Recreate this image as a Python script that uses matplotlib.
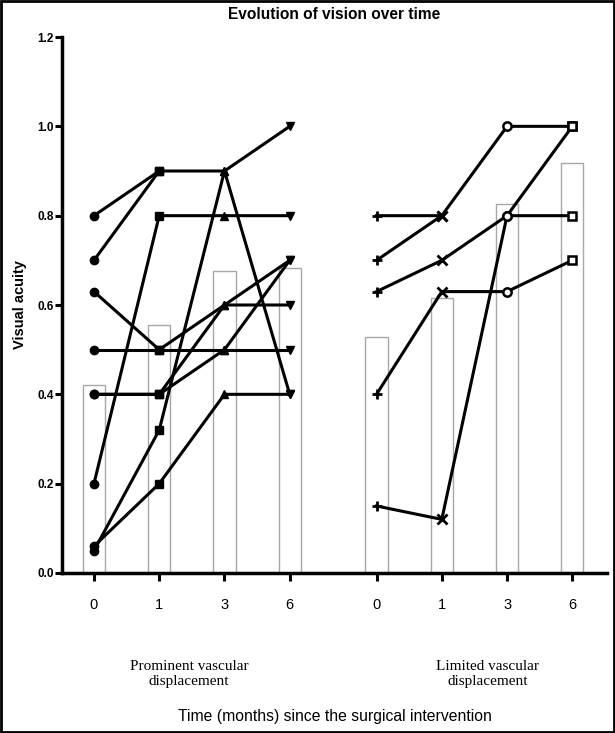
import numpy as np
import matplotlib
matplotlib.use("Agg")
import matplotlib.pyplot as plt
from matplotlib.patches import Rectangle

# Datos
tiempos = ["0", "1", "3", "6"]
grupos = ["Prominent vascular\ndisplacement", "Limited vascular\ndisplacement"]

# barras (media por tiempo)
media_prominente = [0.42, 0.555, 0.677, 0.683]
media_limitado = [0.528, 0.616, 0.826, 0.917]

# pacientes (agudeza visual a 0, 1, 3, 6 meses)
nan = np.nan
pacientes_prominente = [
    [0.80, 0.90, 0.90, 1.00],
    [0.70, 0.90, nan, nan],
    [0.63, 0.50, 0.60, 0.70],
    [0.50, 0.50, 0.50, 0.50],
    [0.40, 0.40, 0.60, 0.60],
    [0.40, 0.40, 0.50, 0.70],
    [0.20, 0.80, 0.80, 0.80],
    [0.06, 0.20, 0.40, 0.40],
    [0.05, 0.32, 0.90, 0.40],
]
pacientes_limitado = [
    [0.80, 0.80, 1.00, 1.00],
    [0.70, 0.80, nan, nan],
    [0.63, 0.70, 0.80, 0.80],
    [0.40, 0.63, 0.63, 0.70],
    [0.15, 0.12, 0.80, 1.00],
]

pos_prominente = np.array([0, 1, 2, 3])
pos_limitado = np.array([4.33, 5.33, 6.33, 7.33])

plt.rcParams['font.family'] = ['Liberation Sans', 'DejaVu Sans']

fig = plt.figure(figsize=(6.15, 7.33), dpi=100)
ax = fig.add_axes([0.1008, 0.2183, 0.886, 0.7312])

# barras huecas grises
ax.bar(pos_prominente, media_prominente, width=0.34, facecolor='white',
       edgecolor='#a8a8a8', linewidth=1.0, zorder=1)
ax.bar(pos_limitado, media_limitado, width=0.34, facecolor='white',
       edgecolor='#a8a8a8', linewidth=1.0, zorder=1)

# lineas por paciente
for p in pacientes_prominente:
    ax.plot(pos_prominente, p, color='black', lw=2.2, zorder=2)
for p in pacientes_limitado:
    ax.plot(pos_limitado, p, color='black', lw=2.2, zorder=2)

# marcadores por tiempo
marc_prom = ['o', 's', '^', 'v']
marc_lim = ['+', 'x', 'o', 's']
datos_prom = np.array(pacientes_prominente)
datos_lim = np.array(pacientes_limitado)
for i in range(4):
    ax.plot(np.full(len(datos_prom), pos_prominente[i]), datos_prom[:, i],
            ls='none', marker=marc_prom[i], ms=6, color='black', zorder=3)
    if marc_lim[i] in ('o', 's'):
        ax.plot(np.full(len(datos_lim), pos_limitado[i]), datos_lim[:, i],
                ls='none', marker=marc_lim[i], ms=6, mfc='white',
                mec='black', mew=1.8, zorder=3)
    else:
        ax.plot(np.full(len(datos_lim), pos_limitado[i]), datos_lim[:, i],
                ls='none', marker=marc_lim[i], ms=7, mec='black',
                mew=2.0, zorder=3)

ax.set_xlim(-0.49, 7.86)
ax.set_ylim(0, 1.2)
ax.set_yticks(np.arange(0, 1.21, 0.2))
ax.set_yticklabels([f"{v:.1f}" for v in np.arange(0, 1.21, 0.2)],
                   fontweight='bold', fontsize=8.5)
ax.set_xticks(np.concatenate([pos_prominente, pos_limitado]))
ax.set_xticklabels(tiempos + tiempos, fontsize=10.5)
ax.tick_params(axis='x', length=6, width=2.2, pad=12)
ax.tick_params(axis='y', length=5, width=2.2, pad=1)
for s in ['top', 'right']:
    ax.spines[s].set_visible(False)
for s in ['left', 'bottom']:
    ax.spines[s].set_linewidth(2.5)

ax.set_ylabel('Visual acuity', fontweight='bold', fontsize=10.5, labelpad=7)
ax.set_title('Evolution of vision over time', fontweight='bold',
             fontsize=11.2, pad=13)

# etiquetas de grupo
fig.text(189 / 615, 1 - 674 / 733, grupos[0], ha='center', va='center',
         fontsize=11, family='Liberation Serif', linespacing=1.25)
fig.text(488 / 615, 1 - 674 / 733, grupos[1], ha='center', va='center',
         fontsize=11, family='Liberation Serif', linespacing=1.25)
fig.text(335 / 615, 1 - 717 / 733,
         'Time (months) since the surgical intervention', ha='center',
         va='center', fontsize=11.3)

# marco alrededor de la figura
fig.add_artist(Rectangle((0.002, 0.002), 0.996, 0.996, fill=False,
                         edgecolor='black', linewidth=2,
                         transform=fig.transFigure))

plt.savefig("out.png", dpi=100)
